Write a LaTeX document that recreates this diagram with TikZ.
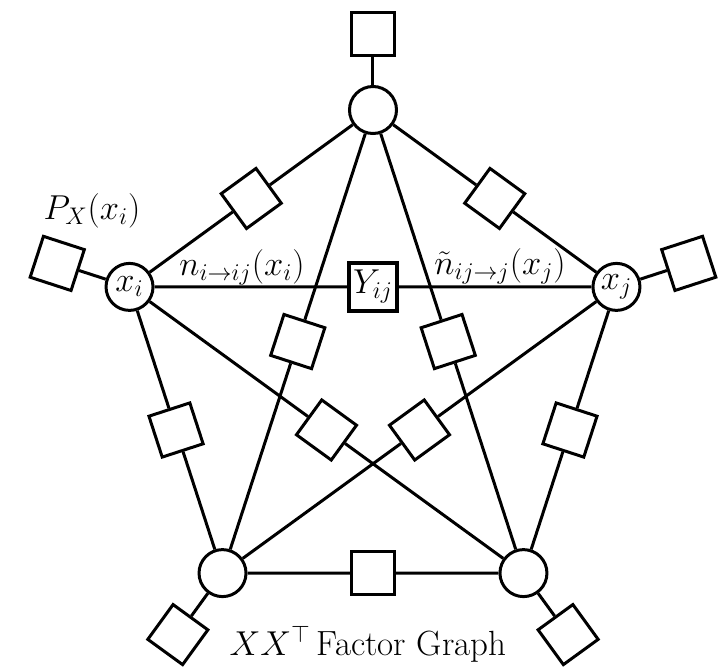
\documentclass[tikz,border=0pt]{standalone}
\usepackage{amsmath,amssymb}
\begin{document}
\begin{tikzpicture}[x=0.5pt,y=0.5pt,line width=1.5pt,
  txt/.style={font=\fontsize{17.5}{21}\selectfont},
  var/.style={circle,draw,fill=white,minimum size=23.5pt,inner sep=0pt,txt},
  fac/.style={rectangle,draw,fill=white,minimum size=21.5pt,inner sep=0pt},
  ybox/.style={rectangle,draw,fill=white,minimum size=24pt,inner sep=0pt,line width=2pt,txt},
  lbl/.style={txt,inner sep=0pt}]
\useasboundingbox (-373,-300) rectangle (352,366);
% variable nodes
\node[var] (t)  at (90:256)  {};
\node[var] (l)  at (162:256) {$x_i$};
\node[var] (bl) at (234:256) {};
\node[var] (br) at (306:256) {};
\node[var] (r)  at (18:256)  {$x_j$};
% prior factors
\node[fac,rotate=90]  (pt)  at (90:332)  {};
\node[fac,rotate=162] (pl)  at (162:332) {};
\node[fac,rotate=234] (pbl) at (234:332) {};
\node[fac,rotate=306] (pbr) at (306:332) {};
\node[fac,rotate=18]  (pr)  at (18:332)  {};
% pentagon edge factors
\node[fac,rotate=126] (ftl)   at (126:207.1) {};
\node[fac,rotate=198] (flbl)  at (198:207.1) {};
\node[fac,rotate=270] (fblbr) at (270:207.1) {};
\node[fac,rotate=342] (fbrr)  at (342:207.1) {};
\node[fac,rotate=54]  (frt)   at (54:207.1)  {};
% diagonal factors
\node[fac,rotate=162] (ftbl) at (162:79.1) {};
\node[fac,rotate=18]  (ftbr) at (18:79.1)  {};
\node[ybox]           (y)    at (90:79.1)  {$Y_{ij}$};
\node[fac,rotate=234] (flbr) at (234:79.1) {};
\node[fac,rotate=306] (frbl) at (306:79.1) {};
% connectors
\draw (t) -- (pt);
\draw (l) -- (pl);
\draw (bl) -- (pbl);
\draw (br) -- (pbr);
\draw (r) -- (pr);
\draw (t) -- (ftl) -- (l);
\draw (l) -- (flbl) -- (bl);
\draw (bl) -- (fblbr) -- (br);
\draw (br) -- (fbrr) -- (r);
\draw (r) -- (frt) -- (t);
\draw (t) -- (ftbl) -- (bl);
\draw (t) -- (ftbr) -- (br);
\draw (l) -- (y) -- (r);
\draw (l) -- (flbr) -- (br);
\draw (r) -- (frbl) -- (bl);
% labels
\node[lbl,anchor=base] (lp) at (-281,147) {$P_X(x_i)$};
\node[lbl,anchor=base] (ln) at (-131,91) {$n_{i\to ij}(x_i)$};
\node[lbl,anchor=base] (lt) at (127,92) {$\tilde{n}_{ij\to j}(x_j)$};
\node[lbl,anchor=base] (cap) at (-5,-289) {$XX^\top$\,Factor Graph};
\end{tikzpicture}
\end{document}
